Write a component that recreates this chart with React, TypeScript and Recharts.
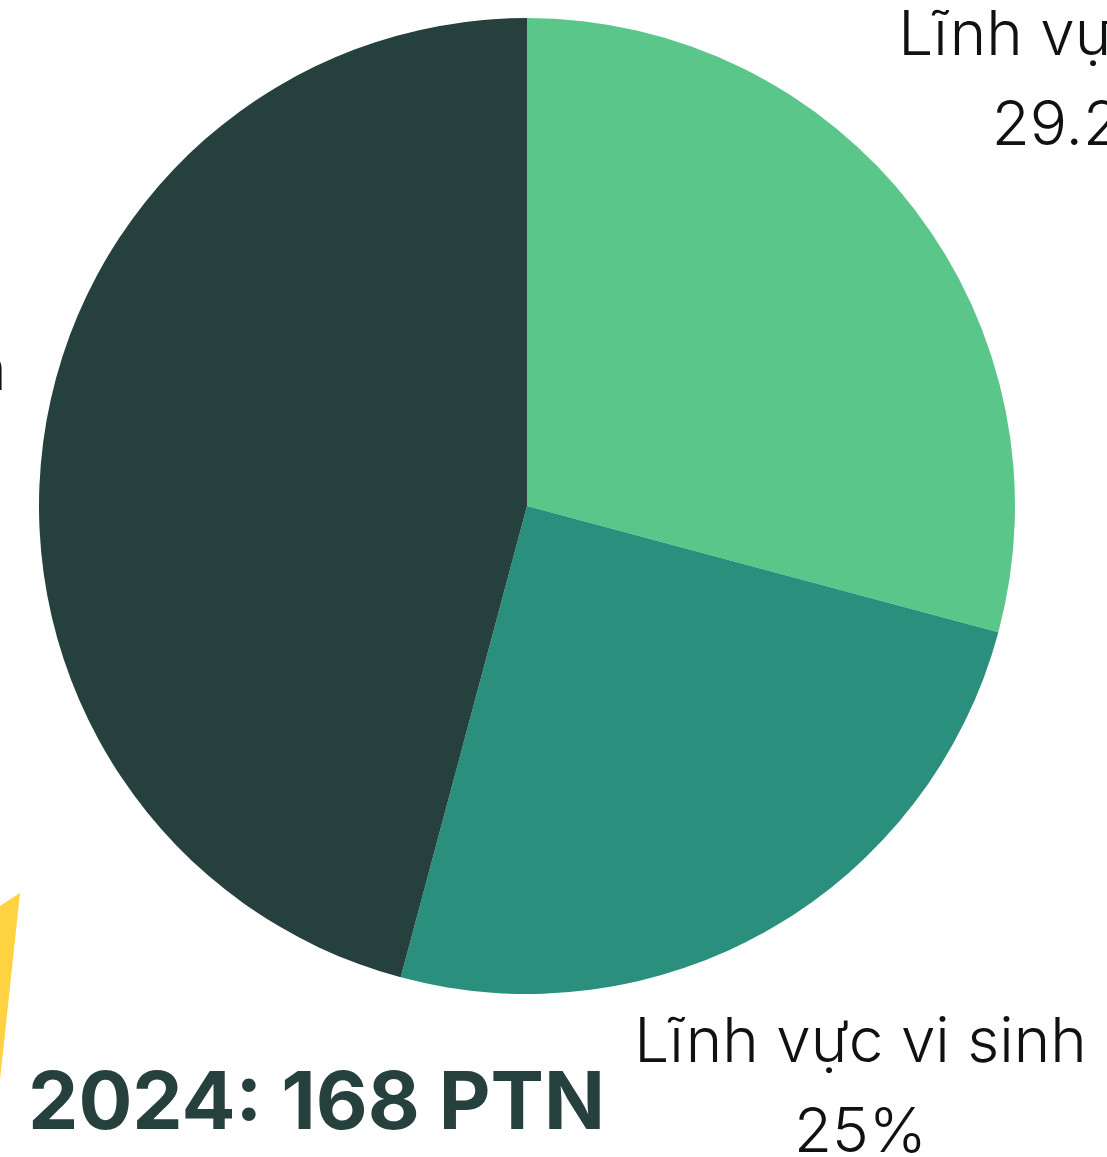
import { PieChart, Pie, Cell } from 'recharts';

const fields = ['Lĩnh vực hóa', 'Lĩnh vực vi sinh', 'Lĩnh vực điện'];
const labCounts = [49, 42, 77];
const shares = ['29.2%', '25%', '45.8%'];
const colors = ['#5bc689', '#2a8f7d', '#26403d'];
const title = '2024: 168 PTN';

const data = fields.map((name, i) => ({ name, value: labCounts[i], share: shares[i] }));

const RADIAN = Math.PI / 180;
// distance of each label block beyond the pie edge
const labelGap = [216, 179, 235];

const renderLabel = (props: any) => {
    const { cx, cy, midAngle, outerRadius, index } = props;
    const r = outerRadius + labelGap[index];
    const x = cx + r * Math.cos(-midAngle * RADIAN);
    const y = cy + r * Math.sin(-midAngle * RADIAN);
    return (
        <text
            x={x}
            y={y}
            textAnchor="middle"
            fill="#111"
            style={{ fontFamily: 'Inter, sans-serif', fontWeight: 300, fontSize: 62 }}
        >
            <tspan x={x} y={y - 22}>{data[index].name}</tspan>
            <tspan x={x} y={y + 68}>{data[index].share}</tspan>
        </text>
    );
};

export default function App() {
    return (
        <div style={{ position: 'absolute', left: 0, top: 0, width: 1107, height: 1157, overflow: 'hidden', background: '#fff' }}>
            <svg width={30} height={300} style={{ position: 'absolute', left: 0, top: 880 }}>
                <polygon points="0,26 20,13 0,200" fill="#ffd242" />
            </svg>
            <PieChart width={1107} height={1157} style={{ position: 'absolute', left: 0, top: 0 }}>
                <Pie
                    data={data}
                    dataKey="value"
                    cx={522}
                    cy={501}
                    outerRadius={488}
                    startAngle={90}
                    endAngle={-270}
                    stroke="none"
                    label={renderLabel}
                    labelLine={false}
                    isAnimationActive={false}
                >
                    {data.map((d, i) => (
                        <Cell key={d.name} fill={colors[i]} />
                    ))}
                </Pie>
            </PieChart>
            <div
                style={{
                    position: 'absolute',
                    left: 28,
                    top: 1050,
                    fontFamily: 'Inter, sans-serif',
                    fontWeight: 700,
                    fontSize: 80,
                    lineHeight: '100px',
                    color: '#26403d',
                    whiteSpace: 'nowrap',
                }}
            >
                {title}
            </div>
        </div>
    );
}
